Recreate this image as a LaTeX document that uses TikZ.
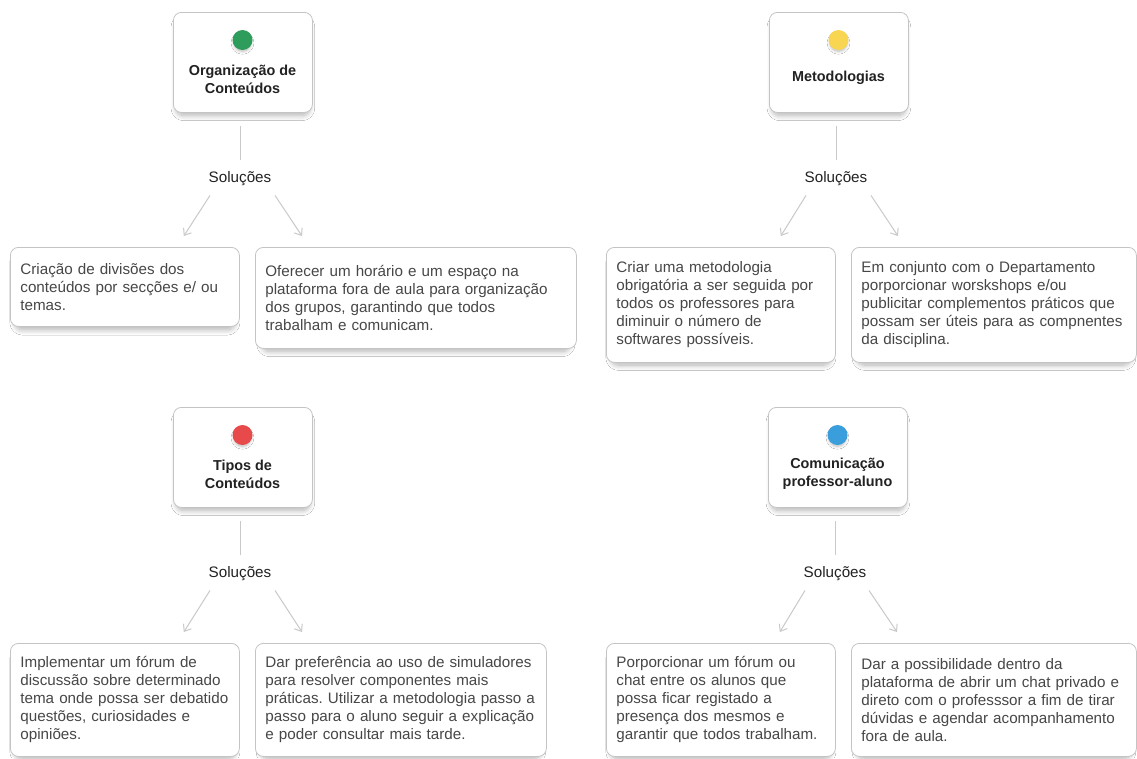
\documentclass[tikz,border=0pt]{standalone}
\usepackage{fontspec}
\setmainfont{Liberation Sans}
\usetikzlibrary{arrows.meta,shadows.blur}
\frenchspacing

\definecolor{cardline}{HTML}{C4C4C4}
\definecolor{connector}{HTML}{C9C9C9}
\definecolor{bodytext}{HTML}{474747}
\definecolor{headtext}{HTML}{222222}
\definecolor{dotgreen}{HTML}{2E9D5B}
\definecolor{dotyellow}{HTML}{F8D652}
\definecolor{dotred}{HTML}{E84A4B}
\definecolor{dotblue}{HTML}{3A9EDC}

\begin{document}
\begin{tikzpicture}[x=0.75pt,y=-0.75pt,
  card/.style={draw=cardline, line width=0.6pt, rounded corners=6pt, fill=white,
    blur shadow={shadow xshift=0pt, shadow yshift=-4pt, shadow scale=0.96,
      shadow blur radius=4pt, shadow blur steps=12, shadow opacity=30}},
  header/.style={card, anchor=north west, minimum width=104.25pt, minimum height=75pt},
  headlabel/.style={align=center, text=headtext, inner sep=0pt,
    font=\fontsize{10.8}{13.5}\selectfont\bfseries},
  dot/.style={circle, minimum size=15pt, inner sep=0pt,
    blur shadow={shadow xshift=0pt, shadow yshift=-2.5pt, shadow scale=0.85,
      shadow blur radius=2.5pt, shadow blur steps=8, shadow opacity=28}},
  solbox/.style={card, anchor=north west, align=left, inner xsep=7.5pt, inner ysep=0pt,
    text=bodytext, font=\fontsize{11.4}{13.5}\selectfont},
  sollabel/.style={text=headtext, inner sep=0pt, text height=8.5pt, text depth=3pt,
    font=\fontsize{11.4}{13}\selectfont},
  conn/.style={draw=connector, line width=0.75pt},
  arr/.style={conn, -{Straight Barb[length=4.5pt, width=7pt]}}
]
\useasboundingbox (0,0) rectangle (1137,758);
\fill[white] (0,0) rectangle (1137,758);

% ---------- Organização de Conteúdos ----------
\node[header] (h1) at (173,12) {};
\node[dot, fill=dotgreen] (d1) at (242.5,40) {};
\node[headlabel] (t1) at (242.5,79) {Organização de\\Conteúdos};
\node[sollabel] (s1) at (240,179) {Soluções};
\node[solbox, text width=156.75pt, minimum height=59.25pt] (b1) at (10,247)
  {Criação de divisões dos\\conteúdos por secções e/ ou\\temas.};
\node[solbox, text width=225.75pt, minimum height=75.75pt] (b2) at (255,247)
  {Oferecer um horário e um espaço na\\\mbox{plataforma fora de aula para organização}\\dos grupos, garantindo que todos\\trabalham e comunicam.};
\draw[conn, shorten <=9.75pt, shorten >=8.5pt] (h1.south -| s1.north) -- (s1.north);
\draw[arr] ([shift={(-30,8.5)}]s1.south) -- ([shift={(-56,-11)}]b1.north east);
\draw[arr] ([shift={(35,8.5)}]s1.south) -- ([shift={(47,-11)}]b2.north west);

% ---------- Metodologias ----------
\node[header] (h2) at (769,12) {};
\node[dot, fill=dotyellow] (d2) at (838.5,40) {};
\node[headlabel] (t2) at (838.5,78) {Metodologias};
\node[sollabel] (s2) at (836,179) {Soluções};
\node[solbox, text width=156.75pt, minimum height=86.25pt] (b3) at (606,247)
  {Criar uma metodologia\\\mbox{obrigatória a ser seguida por}\\todos os professores para\\diminuir o número de\\softwares possíveis.};
\node[solbox, text width=198.75pt, minimum height=86.25pt] (b4) at (851,247)
  {Em conjunto com o Departamento\\porporcionar worskshops e/ou\\\mbox{publicitar complementos práticos que}\\\mbox{possam ser úteis para as compnentes}\\da disciplina.};
\draw[conn, shorten <=9.75pt, shorten >=8.5pt] (h2.south -| s2.north) -- (s2.north);
\draw[arr] ([shift={(-30,8.5)}]s2.south) -- ([shift={(-55,-11)}]b3.north east);
\draw[arr] ([shift={(35,8.5)}]s2.south) -- ([shift={(47,-11)}]b4.north west);

% ---------- Tipos de Conteúdos ----------
\node[header] (h3) at (173,407) {};
\node[dot, fill=dotred] (d3) at (242.5,435) {};
\node[headlabel] (t3) at (242.5,474) {Tipos de\\Conteúdos};
\node[sollabel] (s3) at (240,574) {Soluções};
\node[solbox, text width=156.75pt, minimum height=84.75pt] (b5) at (10,643)
  {Implementar um fórum de\\\mbox{discussão sobre determinado}\\\mbox{tema onde possa ser debatido}\\questões, curiosidades e\\opiniões.};
\node[solbox, text width=203.25pt, minimum height=84.75pt] (b6) at (255,643)
  {\mbox{Dar preferência ao uso de simuladores}\\para resolver componentes mais\\\mbox{práticas. Utilizar a metodologia passo a}\\\mbox{passo para o aluno seguir a explicação}\\e poder consultar mais tarde.};
\draw[conn, shorten <=9.75pt, shorten >=8.5pt] (h3.south -| s3.north) -- (s3.north);
\draw[arr] ([shift={(-30,8.5)}]s3.south) -- ([shift={(-56,-11)}]b5.north east);
\draw[arr] ([shift={(35,8.5)}]s3.south) -- ([shift={(47,-11)}]b6.north west);

% ---------- Comunicação professor-aluno ----------
\node[header] (h4) at (768,407) {};
\node[dot, fill=dotblue] (d4) at (837.5,435) {};
\node[headlabel] (t4) at (837.5,474) {Comunicação\\professor-aluno};
\node[sollabel] (s4) at (835,574) {Soluções};
\node[solbox, text width=156.75pt, minimum height=84.75pt] (b7) at (606,643)
  {Porporcionar um fórum ou\\chat entre os alunos que\\possa ficar registado a\\presença dos mesmos e\\\mbox{garantir que todos trabalham.}};
\node[solbox, text width=198.75pt, minimum height=84.75pt] (b8) at (851,643)
  {Dar a possibilidade dentro da\\\mbox{plataforma de abrir um chat privado e}\\\mbox{direto com o professsor a fim de tirar}\\\mbox{dúvidas e agendar acompanhamento}\\fora de aula.};
\draw[conn, shorten <=9.75pt, shorten >=8.5pt] (h4.south -| s4.north) -- (s4.north);
\draw[arr] ([shift={(-30,8.5)}]s4.south) -- ([shift={(-56,-11)}]b7.north east);
\draw[arr] ([shift={(34,8.5)}]s4.south) -- ([shift={(46,-11)}]b8.north west);
\end{tikzpicture}
\end{document}
